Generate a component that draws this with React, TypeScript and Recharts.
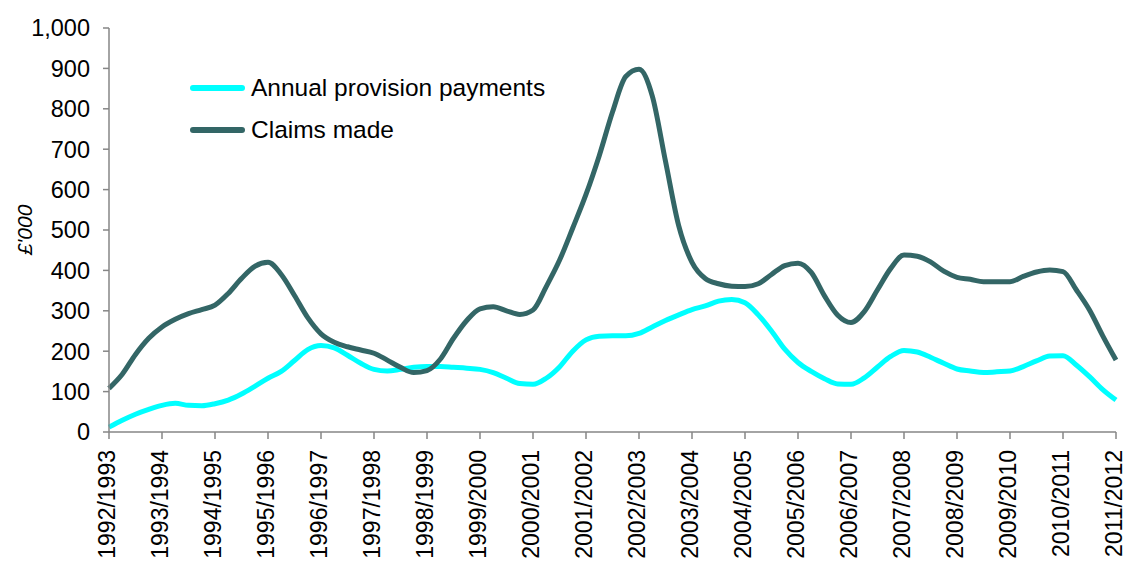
import React from 'react';
import { LineChart, Line, XAxis, YAxis, Label } from 'recharts';

const seasons = [
  '1992/1993', '1993/1994', '1994/1995', '1995/1996', '1996/1997',
  '1997/1998', '1998/1999', '1999/2000', '2000/2001', '2001/2002',
  '2002/2003', '2003/2004', '2004/2005', '2005/2006', '2006/2007',
  '2007/2008', '2008/2009', '2009/2010', '2010/2011', '2011/2012',
];

// quarterly readings, four per season (last season has one)
const provisionPayments = [
  12, 29, 44, 56, 66, 71, 66, 65, 70, 79, 94, 113, 133, 150, 177, 204,
  214, 208, 190, 170, 155, 151, 155, 160, 162, 162, 160, 158, 155, 147, 133, 120,
  118, 133, 161, 200, 228, 237, 238, 238, 244, 260, 276, 290, 303, 312, 324, 328,
  320, 290, 250, 205, 172, 150, 132, 119, 118, 134, 161, 187, 202, 198, 185, 170,
  156, 151, 147, 149, 151, 162, 176, 188, 189, 166, 137, 105, 79,
];

const claimsMade = [
  108, 143, 192, 232, 260, 279, 293, 303, 314, 343, 380, 410, 420, 390, 338, 283,
  243, 222, 211, 203, 195, 178, 160, 147, 152, 180, 232, 276, 305, 310, 300, 291,
  302, 360, 425, 505, 588, 684, 792, 880, 898, 832, 670, 510, 420, 380, 367, 361,
  360, 367, 390, 412, 418, 395, 337, 289, 271, 298, 352, 405, 438, 435, 421, 398,
  383, 378, 372, 372, 372, 385, 396, 401, 397, 352, 302, 238, 178,
];

const seriesNames = ['Annual provision payments', 'Claims made'];

const yTicks = [0, 100, 200, 300, 400, 500, 600, 700, 800, 900, 1000];
const xTicks = seasons.map((_, i) => i);

const data = provisionPayments.map((v, i) => ({
  t: i / 4,
  provision: v,
  claims: claimsMade[i],
}));

const FONT = '"Liberation Sans", Arial, sans-serif';
const AXIS_COLOR = '#868686';
const CYAN = '#00FFFF';
const TEAL = '#336666';

const XTick = (props: any) => {
  const { x, y, payload } = props;
  return (
    <text
      transform={`translate(${x - 2},${y + 9}) rotate(-90)`}
      textAnchor="end"
      dominantBaseline="central"
      fontSize={23}
      fontFamily={FONT}
      fill="#000"
    >
      {seasons[payload.value]}
    </text>
  );
};

const LegendBox = () => {
  const colors = [CYAN, TEAL];
  return (
    <div
      style={{
        position: 'absolute',
        left: 190,
        top: 67,
        fontFamily: FONT,
        fontSize: 24.5,
        color: '#000',
      }}
    >
      {seriesNames.map((name, i) => (
        <div key={name} style={{ display: 'flex', alignItems: 'center', height: 42 }}>
          <div style={{ width: 55, height: 6, borderRadius: 3, background: colors[i], marginRight: 6 }} />
          <span>{name}</span>
        </div>
      ))}
    </div>
  );
};

const App: React.FC = () => {
  return (
    <div style={{ position: 'absolute', left: 0, top: 0, width: 1126, height: 567, background: '#fff' }}>
      <LineChart
        width={1126}
        height={567}
        data={data}
        margin={{ top: 28, right: 10, bottom: 0, left: 9 }}
      >
        <XAxis
          dataKey="t"
          type="number"
          domain={[0, 19]}
          ticks={xTicks}
          interval={0}
          height={135}
          stroke={AXIS_COLOR}
          strokeWidth={1.5}
          tickSize={7}
          tick={<XTick />}
        />
        <YAxis
          domain={[0, 1000]}
          ticks={yTicks}
          interval={0}
          width={100}
          stroke={AXIS_COLOR}
          strokeWidth={1.5}
          tickSize={6}
          tickMargin={13}
          tick={{ fill: '#000', fontSize: 23.5, fontFamily: FONT }}
          tickFormatter={(v: number) => v.toLocaleString('en-GB')}
        >
          <Label
            content={(p: any) => {
              const vb = p.viewBox;
              return (
                <text
                  transform={`translate(${vb.x + 15},${vb.y + vb.height / 2}) rotate(-90)`}
                  textAnchor="middle"
                  dominantBaseline="central"
                  fontSize={21}
                  fontStyle="italic"
                  fontFamily={FONT}
                  fill="#000"
                >
                  £'000
                </text>
              );
            }}
          />
        </YAxis>
        <Line
          type="monotone"
          dataKey="provision"
          name={seriesNames[0]}
          stroke={CYAN}
          strokeWidth={5}
          dot={false}
          isAnimationActive={false}
        />
        <Line
          type="monotone"
          dataKey="claims"
          name={seriesNames[1]}
          stroke={TEAL}
          strokeWidth={5}
          dot={false}
          isAnimationActive={false}
        />
      </LineChart>
      <LegendBox />
    </div>
  );
};

export default App;
